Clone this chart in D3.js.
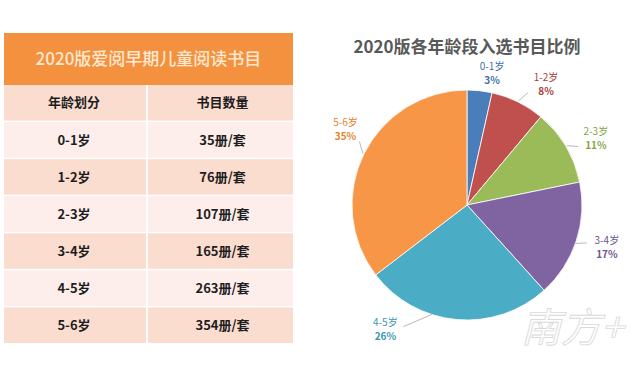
<!DOCTYPE html>
<html>
<head>
<meta charset="utf-8">
<script src="https://cdn.jsdelivr.net/npm/d3@7"></script>
<style>
  body { margin: 0; background: #fff; }
  text { font-family: "Noto Sans CJK SC", "Noto Sans", sans-serif; }
</style>
</head>
<body>
<div id="chart"></div>
<script>
// data
let tableTitle = "2020版爱阅早期儿童阅读书目";
let pieTitle = "2020版各年龄段入选书目比例";
let headers = ["年龄划分", "书目数量"];
let ageGroups = ["0-1岁", "1-2岁", "2-3岁", "3-4岁", "4-5岁", "5-6岁"];
let bookCounts = [35, 76, 107, 165, 263, 354];
let percentLabels = ["3%", "8%", "11%", "17%", "26%", "35%"];
let sliceColors = ["#4a7ebb", "#c0504d", "#9bbb59", "#8064a2", "#4bacc6", "#f79646"];
let labelColors = ["#3f6fa8", "#a8403d", "#86a548", "#6d5490", "#3a98b0", "#e4832e"];

let width = 640, height = 377;

let svg = d3.select("#chart")
            .append("svg")
                .attr("width", width)
                .attr("height", height);

// ---- table on the left ----
let tx0 = 4, tx1 = 293, colSplit = 147;
let titleTop = 33, titleBottom = 85, tableBottom = 343;

svg.append("rect")
    .attr("x", tx0).attr("y", titleTop)
    .attr("width", tx1 - tx0).attr("height", titleBottom - titleTop)
    .attr("fill", "#f4913f");

svg.append("text")
    .attr("x", (tx0 + tx1) / 2)
    .attr("y", (titleTop + titleBottom) / 2)
    .attr("dy", "0.36em")
    .attr("text-anchor", "middle")
    .style("font-size", "17px")
    .style("font-weight", "500")
    .attr("fill", "#fde9d2")
    .text(tableTitle);

let rows = [headers].concat(ageGroups.map((a, i) => [a, bookCounts[i] + "册/套"]));

let y = d3.scaleBand()
            .domain(d3.range(rows.length))
            .range([titleBottom, tableBottom])
            .paddingInner(0.04);

let x = d3.scaleOrdinal()
            .domain([0, 1])
            .range([[tx0, colSplit - 1], [colSplit + 1, tx1]]);

rows.forEach((r, i) => {
    let g = svg.append("g");
    r.forEach((cell, j) => {
        let [a, b] = x(j);
        g.append("rect")
            .attr("x", a).attr("y", y(i))
            .attr("width", b - a).attr("height", y.bandwidth())
            .attr("fill", i % 2 == 0 ? "#fbddd0" : "#fdeeec");
        g.append("text")
            .attr("x", j == 0 ? (a + b) / 2 - 1 : (a + b) / 2 + 2)
            .attr("y", y(i) + y.bandwidth() / 2)
            .attr("dy", "0.36em")
            .attr("text-anchor", "middle")
            .style("font-size", "13px")
            .style("font-weight", "bold")
            .attr("fill", "#1e1e1e")
            .text(cell);
    });
});

// ---- pie on the right ----
let cx = 467, cy = 205, radius = 115;

svg.append("text")
    .attr("x", cx)
    .attr("y", 47)
    .attr("dy", "0.36em")
    .attr("text-anchor", "middle")
    .style("font-size", "17px")
    .style("font-weight", "bold")
    .attr("fill", "#595959")
    .text(pieTitle);

let pieData = d3.pie().sort(null)(bookCounts);

let arc = d3.arc().innerRadius(0).outerRadius(radius);

let pg = svg.append("g").attr("transform", "translate(" + cx + "," + cy + ")");

pg.selectAll("path.slice")
    .data(pieData)
    .join("path")
        .attr("class", "slice")
        .attr("d", arc)
        .attr("fill", (d, i) => sliceColors[i])
        .attr("stroke", "#fff")
        .attr("stroke-width", 0.8);

// label placement: radius and angular nudge (degrees) per slice, Excel-style
let labelR = [134, 144, 145, 146, 149, 143];
let labelNudge = [4.5, 7, 3.5, -1.5, 28, 5.5];
let lineIn = [0, 1, 1, 1, 1, 1];

pieData.forEach((d, i) => {
    let mid = (d.startAngle + d.endAngle) / 2;
    let ang = mid + labelNudge[i] * Math.PI / 180;
    let lx = labelR[i] * Math.sin(ang), ly = -labelR[i] * Math.cos(ang);
    let g = pg.append("g");

    if (lineIn[i]) {
        // leader line from the slice edge to the label
        let ex = (radius + 1) * Math.sin(mid), ey = -(radius + 1) * Math.cos(mid);
        let sx = lx + (lx > 0 ? -18 : 18), sy = ly + (ly > 0 ? -7 : 8);
        if (i == 3) { ex = radius * Math.sin(ang + 0.05); ey = -radius * Math.cos(ang + 0.05); sx = lx - 20; sy = ly - 4; }
        if (i == 4) { sx = lx + 18; sy = ly - 3; ex = radius * Math.sin(mid + 0.22); ey = -radius * Math.cos(mid + 0.22); }
        if (i == 5) { sx = lx + 14; sy = ly + 12; }
        g.append("path")
            .attr("d", d3.line()([[sx, sy], [ex, ey]]))
            .attr("stroke", "#a6a6a6")
            .attr("stroke-width", 0.8)
            .attr("fill", "none");
    }

    g.append("text")
        .attr("x", lx).attr("y", ly - 7)
        .attr("dy", "0.36em")
        .attr("text-anchor", "middle")
        .style("font-size", "10px")
        .attr("fill", labelColors[i])
        .text(ageGroups[i]);
    g.append("text")
        .attr("x", lx).attr("y", ly + 7)
        .attr("dy", "0.36em")
        .attr("text-anchor", "middle")
        .style("font-size", "10px")
        .style("font-weight", "bold")
        .attr("fill", labelColors[i])
        .text(percentLabels[i]);
});

// watermark
svg.append("text")
    .attr("x", 572).attr("y", 342)
    .attr("text-anchor", "middle")
    .style("font-size", "40px")
    .style("font-style", "italic")
    .attr("fill", "#ffffff")
    .attr("stroke", "#d4d4d4")
    .attr("stroke-width", 0.9)
    .attr("opacity", 0.85)
    .text("南方+");
</script>
</body>
</html>
